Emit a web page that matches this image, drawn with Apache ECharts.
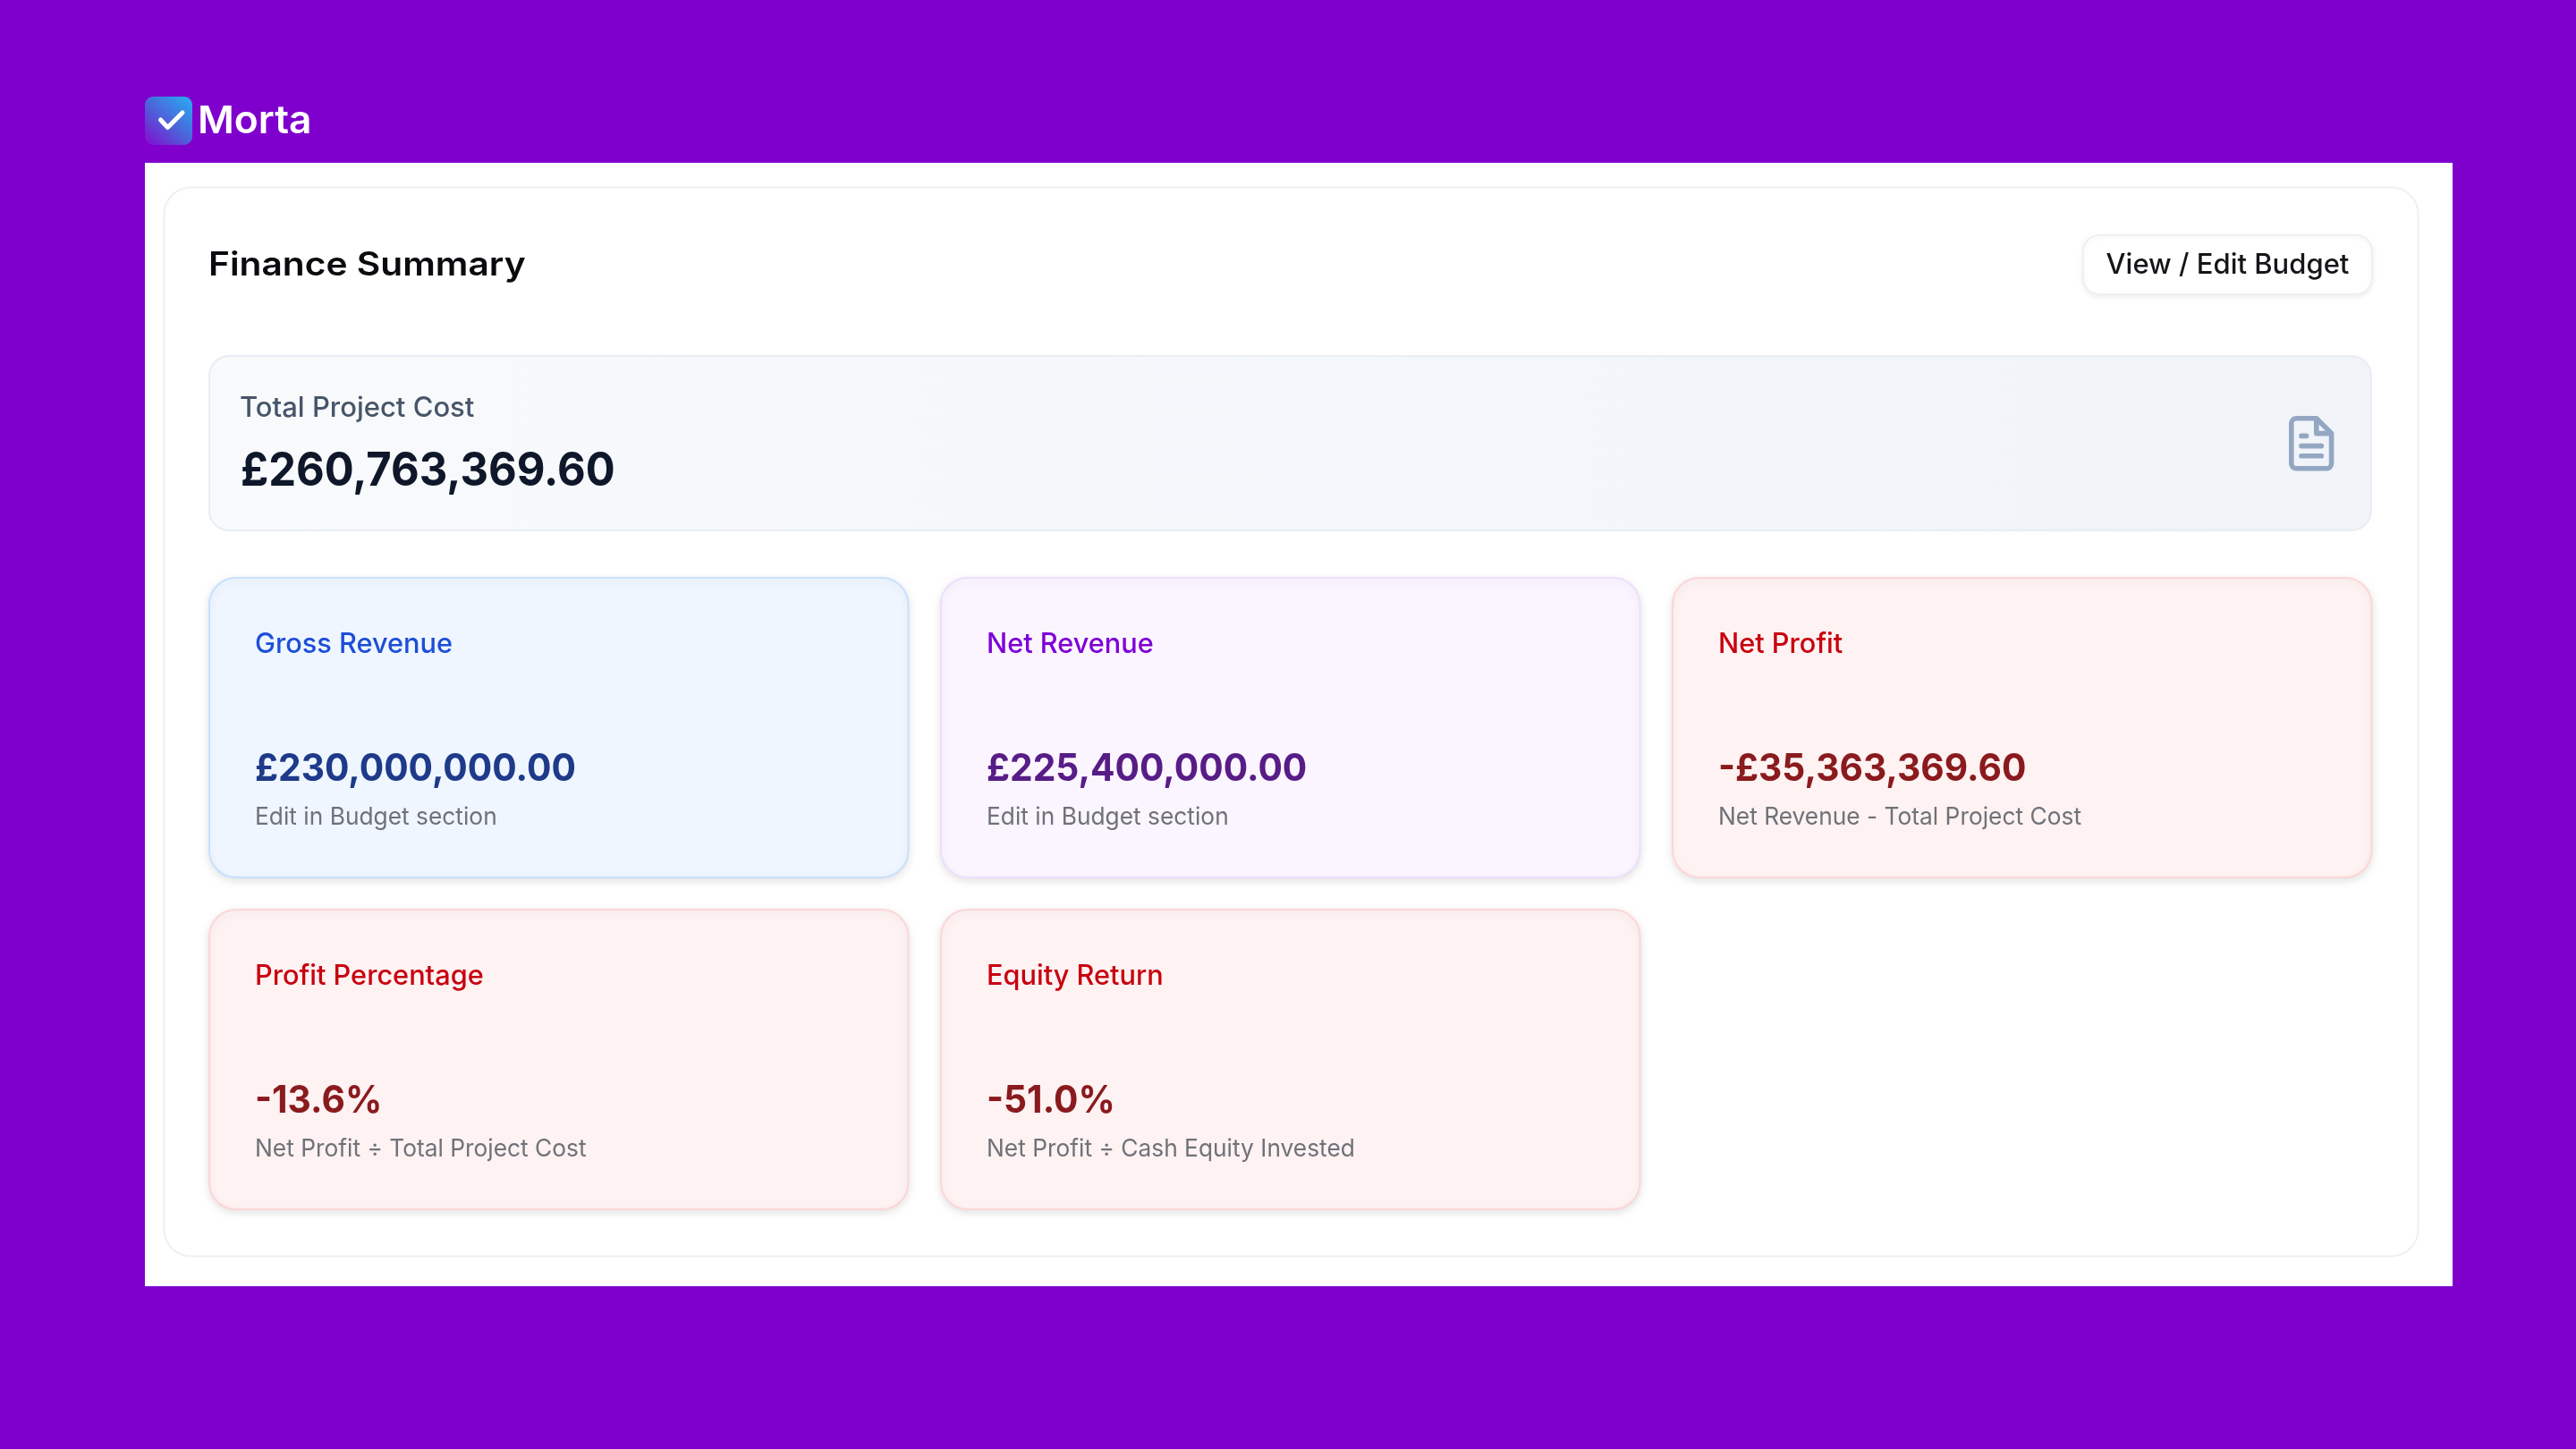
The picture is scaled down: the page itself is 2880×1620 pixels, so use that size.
<!DOCTYPE html>
<html><head><meta charset="utf-8">
<style>html,body{margin:0;padding:0;background:#7f00cd}#c{width:2880px;height:1620px}</style>
<script src="https://cdn.jsdelivr.net/npm/echarts@6/dist/echarts.min.js"></script>
</head><body><div id="c"></div>
<script>
const brandName = "Morta";
const pageTitle = "Finance Summary";
const buttonLabel = "View / Edit Budget";
const totalLabel = "Total Project Cost";
const totalValue = "£260,763,369.60";
const cardTitles = ["Gross Revenue","Net Revenue","Net Profit","Profit Percentage","Equity Return"];
const cardValues = ["£230,000,000.00","£225,400,000.00","-£35,363,369.60","-13.6%","-51.0%"];
const cardNotes = ["Edit in Budget section","Edit in Budget section","Net Revenue - Total Project Cost","Net Profit ÷ Total Project Cost","Net Profit ÷ Cash Equity Invested"];
const cardTones = ["blue","purple","red","red","red"];

const tones = {
  blue:{bg:"#eff6ff",border:"#c8e0fe",title:"#1d4ed8",value:"#1e3a8a"},
  purple:{bg:"#faf5ff",border:"#eddffd",title:"#7e00d6",value:"#581c87"},
  red:{bg:"#fef2f2",border:"#fdd6d6",title:"#c8000f",value:"#8a1a1e"}
};
const FONT = "Inter";
function txt(x,y,s,size,weight,fill,align,sx){
  return {type:"text",x:x,y:y,scaleX:sx||1,z:10,style:{text:s,fontFamily:FONT,fontSize:size,fontWeight:weight,fill:fill,
    align:align||"left",verticalAlign:"middle"}};
}
function box(x,y,w,h,r,fill,stroke,lw,shadow){
  const st={fill:fill,stroke:stroke||null,lineWidth:lw||0};
  if(shadow){st.shadowBlur=shadow.blur;st.shadowOffsetY=shadow.y;st.shadowColor=shadow.color;}
  return {type:"rect",z:shadow?3:2,shape:{x:x,y:y,width:w,height:h,r:r},style:st};
}
echarts.graphic.registerShape("fileTextIcon",echarts.graphic.extendPath("M14 2H6a2 2 0 0 0-2 2v16a2 2 0 0 0 2 2h12a2 2 0 0 0 2-2V8zM14 2v6h6M16 13H8M16 17H8M10 9H8",{}));
const els=[];
els.push(box(162,182,2580,1256,0,"#ffffff"));
els.push(box(183.5,209.5,2520,1195,30,"#ffffff","#eff0f3",2));
// logo
els.push({type:"rect",z:3,shape:{x:162,y:108,width:53,height:54,r:9},style:{
  fill:new echarts.graphic.LinearGradient(1,0,0.1,1,[{offset:0,color:"#28aef2"},{offset:0.55,color:"#4d62da"},{offset:1,color:"#7f12cf"}])}});
els.push({type:"polyline",z:4,shape:{points:[[179.5,134],[187.5,142.5],[204,126]]},style:{stroke:"#fff",lineWidth:5,fill:null,lineCap:"round",lineJoin:"round"}});
els.push(txt(221,136,brandName,43,600,"#ffffff","left",1.03));
els.push(txt(233,296.5,pageTitle,37,600,"#0b0b0f","left",1.1));
// button
els.push(box(2329,263,323,66,18,"#ffffff","#eff0f3",2,{blur:5,y:2,color:"rgba(0,0,0,0.06)"}));
els.push(txt(2490.5,297,buttonLabel,31,500,"#16161a","center"));
// total bar
els.push({type:"rect",z:2,shape:{x:234,y:398,width:2417,height:195,r:22},style:{
  fill:new echarts.graphic.LinearGradient(0,0,1,0.2,[{offset:0,color:"#f8fafc"},{offset:1,color:"#f0f4f9"}]),stroke:"#e9edf3",lineWidth:2}});
els.push(txt(268,457,totalLabel,31,500,"#475569"));
els.push(txt(269,527,totalValue,52,700,"#0f172a","left",0.94));
els.push({type:"fileTextIcon",z:5,x:2550.6,y:462.2,scaleX:2.8,scaleY:2.8,shape:{},
  style:{fill:null,stroke:"#94a7c2",lineWidth:2,lineCap:"round",lineJoin:"round"}});
// cards
const colX=[234,1052,1870], rowY=[646,1017], cw=781.5, ch=335;
cardTitles.forEach(function(t,i){
  const c=i%3,r=Math.floor(i/3),x=colX[c],y=rowY[r],tn=tones[cardTones[i]];
  els.push(box(x,y,cw,ch,30,tn.bg,tn.border,2,{blur:8,y:3,color:"rgba(0,0,0,0.10)"}));
  els.push(txt(x+51,y+75,t,31,500,tn.title,"left",0.99));
  els.push(txt(x+51,y+214,cardValues[i],42,700,tn.value,"left",0.97));
  els.push(txt(x+51,y+268,cardNotes[i],27,400,"#6f7278","left",0.975));
});
const chart=echarts.init(document.getElementById("c"),null,{renderer:"canvas",width:2880,height:1620});
chart.setOption({animation:false,backgroundColor:"#7f00cd",graphic:{elements:els}});
</script></body></html>
